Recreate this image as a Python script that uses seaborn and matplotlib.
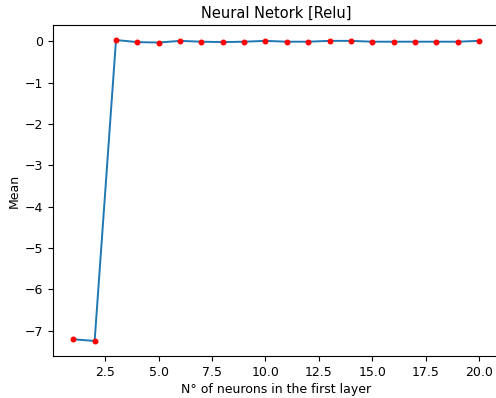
import matplotlib
matplotlib.use("Agg")
import matplotlib.pyplot as plt
import seaborn as sns
import pandas as pd

neurons = list(range(1, 21))
mean = [-7.21, -7.25, 0.03, -0.02, -0.03, 0.01, -0.01, -0.02, -0.01, 0.01,
        -0.01, -0.01, 0.01, 0.01, -0.01, -0.01, -0.01, -0.01, -0.01, 0.01]

df = pd.DataFrame({"neurons": neurons, "mean": mean})

plt.rcParams["font.size"] = 9
fig = plt.figure(figsize=(4.96, 3.98), dpi=100)
ax = fig.add_axes([53 / 496, 1 - 356 / 398, (499.3 - 53) / 496, (356 - 25) / 398])
sns.lineplot(data=df, x="neurons", y="mean", ax=ax, color="#1f77b4", linewidth=1.4)
ax.plot(df["neurons"], df["mean"], "r.", markersize=6.5)
ax.set_title("Neural Netork [Relu]", fontsize=10.5, pad=5)
ax.set_xlabel("N° of neurons in the first layer", labelpad=3)
ax.set_ylabel("Mean", labelpad=3)
fig.savefig("out.png", dpi=100)
